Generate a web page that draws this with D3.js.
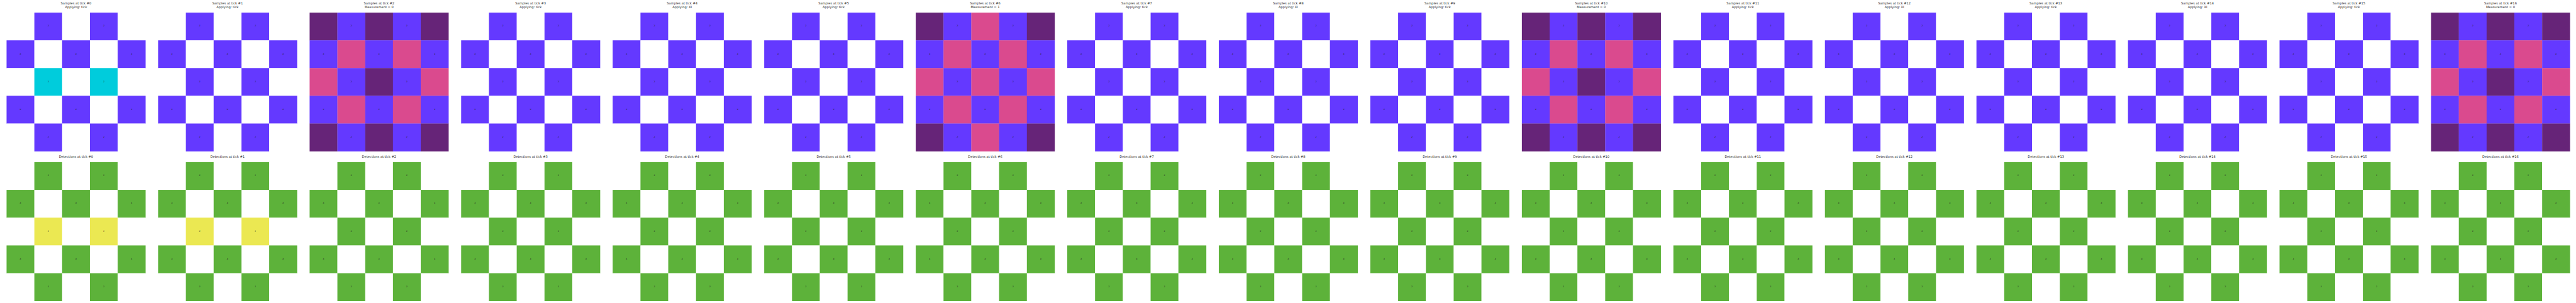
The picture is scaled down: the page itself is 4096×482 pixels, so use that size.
<!DOCTYPE html>
<html>
<head>
<meta charset="utf-8">
<script src="https://cdn.jsdelivr.net/npm/d3@7"></script>
<style>
html,body{margin:0;padding:0;background:#fff;overflow:hidden;}
svg{display:block;}
text{font-family:"DejaVu Sans",sans-serif;}
</style>
</head>
<body>
<svg id="chart"></svg>
<script>
// ---- data ----
const ticks = d3.range(17);
const sampleSubtitles = [
  "Applying: tick","Applying: tick","Measurement = 0","Applying: tick","Applying: XI",
  "Applying: tick","Measurement = 1","Applying: tick","Applying: XI","Applying: tick",
  "Measurement = 0","Applying: tick","Applying: XI","Applying: tick","Applying: XI",
  "Applying: tick","Measurement = 0"
];
// qubit layout labels (row-major 5x5)
const layoutLabels = [
  "", "z", "", "z", "",
  "x", "", "x", "", "x",
  "", "z", "", "z", "",
  "x", "", "x", "", "x",
  "", "z", "", "z", ""
];
// sample grids per tick: b=blue, c=cyan, w=white, p=pink, d=dark purple
const sampleGrids = [
  "wbwbw bwbwb wcwcw bwbwb wbwbw",
  "wbwbw bwbwb wbwbw bwbwb wbwbw",
  "dbdbd bpbpb pbdbp bpbpb dbdbd",
  "wbwbw bwbwb wbwbw bwbwb wbwbw",
  "wbwbw bwbwb wbwbw bwbwb wbwbw",
  "wbwbw bwbwb wbwbw bwbwb wbwbw",
  "dbpbd bpbpb pbpbp bpbpb dbpbd",
  "wbwbw bwbwb wbwbw bwbwb wbwbw",
  "wbwbw bwbwb wbwbw bwbwb wbwbw",
  "wbwbw bwbwb wbwbw bwbwb wbwbw",
  "dbdbd bpbpb pbdbp bpbpb dbdbd",
  "wbwbw bwbwb wbwbw bwbwb wbwbw",
  "wbwbw bwbwb wbwbw bwbwb wbwbw",
  "wbwbw bwbwb wbwbw bwbwb wbwbw",
  "wbwbw bwbwb wbwbw bwbwb wbwbw",
  "wbwbw bwbwb wbwbw bwbwb wbwbw",
  "dbdbd bpbpb pbdbp bpbpb dbdbd"
];
// detection grids per tick: g=green, y=yellow, w=white
const detectionGrids = [
  "wgwgw gwgwg wywyw gwgwg wgwgw",
  "wgwgw gwgwg wywyw gwgwg wgwgw",
  "wgwgw gwgwg wgwgw gwgwg wgwgw",
  "wgwgw gwgwg wgwgw gwgwg wgwgw",
  "wgwgw gwgwg wgwgw gwgwg wgwgw",
  "wgwgw gwgwg wgwgw gwgwg wgwgw",
  "wgwgw gwgwg wgwgw gwgwg wgwgw",
  "wgwgw gwgwg wgwgw gwgwg wgwgw",
  "wgwgw gwgwg wgwgw gwgwg wgwgw",
  "wgwgw gwgwg wgwgw gwgwg wgwgw",
  "wgwgw gwgwg wgwgw gwgwg wgwgw",
  "wgwgw gwgwg wgwgw gwgwg wgwgw",
  "wgwgw gwgwg wgwgw gwgwg wgwgw",
  "wgwgw gwgwg wgwgw gwgwg wgwgw",
  "wgwgw gwgwg wgwgw gwgwg wgwgw",
  "wgwgw gwgwg wgwgw gwgwg wgwgw",
  "wgwgw gwgwg wgwgw gwgwg wgwgw"
];
const colorCodes = ["w","b","c","p","d","g","y"];
const colorValues = ["#ffffff","#6439ff","#00ccdc","#da4a8e","#662478","#5db23a","#ebe852"];

// ---- drawing ----
const W = 5100, H = 600;
const svg = d3.select("#chart")
  .attr("width", 4096).attr("height", 482)
  .attr("viewBox", `0 0 ${W} ${H}`)
  .attr("preserveAspectRatio", "none");

const color = d3.scaleOrdinal().domain(colorCodes).range(colorValues);
const panelX = d3.scaleBand().domain(ticks).range([0, W]);
const col = d3.scaleBand().domain(d3.range(5)).range([13, 288]);
const rowTop = d3.scaleBand().domain(d3.range(5)).range([25, 299.5]);
const rowBot = d3.scaleBand().domain(d3.range(5)).range([321, 596]);

function parseGrid(s) {
  return s.replace(/ /g, "").split("").map((c, i) => ({
    c, r: Math.floor(i / 5), k: i % 5, label: layoutLabels[i]
  }));
}

function drawGrid(g, cells, rowScale) {
  g.selectAll("rect").data(cells).join("rect")
    .attr("x", d => col(d.k))
    .attr("y", d => rowScale(d.r))
    .attr("width", col.bandwidth() + 0.3)
    .attr("height", rowScale.bandwidth() + 0.3)
    .attr("fill", d => color(d.c));
  g.selectAll("text").data(cells.filter(d => d.label)).join("text")
    .attr("x", d => col(d.k) + col.bandwidth() / 2)
    .attr("y", d => rowScale(d.r) + rowScale.bandwidth() / 2 - 1.5)
    .attr("text-anchor", "middle")
    .attr("dominant-baseline", "central")
    .attr("font-size", 5)
    .attr("fill", "#222")
    .attr("fill-opacity", 0.85)
    .text(d => d.label);
}

const panels = svg.selectAll("g.panel").data(ticks).join("g")
  .attr("class", "panel")
  .attr("transform", t => `translate(${panelX(t)},0)`);

panels.each(function (t) {
  const p = d3.select(this);
  const top = p.append("g");
  drawGrid(top, parseGrid(sampleGrids[t]), rowTop);
  const bot = p.append("g");
  drawGrid(bot, parseGrid(detectionGrids[t]), rowBot);

  const cx = (col.range()[0] + col.range()[1]) / 2;
  const tt = p.append("text")
    .attr("x", cx).attr("text-anchor", "middle")
    .attr("font-size", 6.4).attr("fill", "#262626");
  tt.append("tspan").attr("x", cx).attr("y", 8.6).text(`Samples at tick #${t}`);
  tt.append("tspan").attr("x", cx).attr("y", 16.2).text(sampleSubtitles[t]);

  p.append("text")
    .attr("x", cx).attr("y", 312.6)
    .attr("text-anchor", "middle")
    .attr("font-size", 6.4).attr("fill", "#262626")
    .text(`Detections at tick #${t}`);
});
</script>
</body>
</html>
